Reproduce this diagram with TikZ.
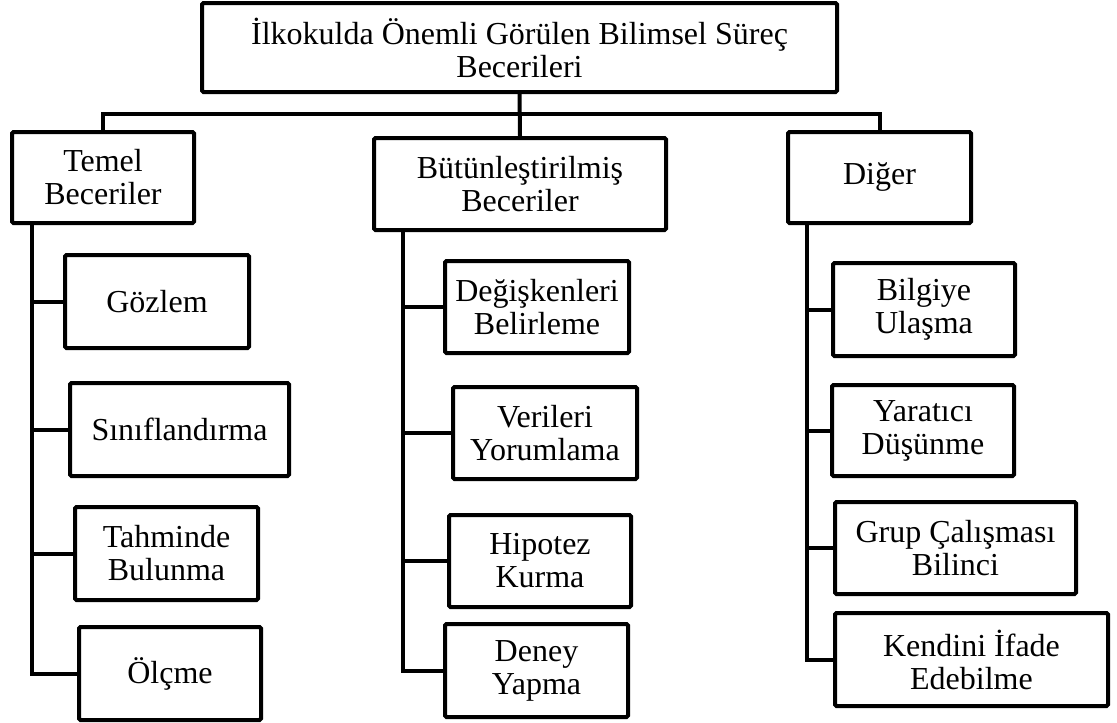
\documentclass[tikz,border=0pt]{standalone}
\usepackage{fontspec}
\setmainfont{Liberation Serif}
\begin{document}
\begin{tikzpicture}[x=1pt,y=-1pt,
  box/.style={draw=black,line width=4pt,rounded corners=1.5pt,fill=white,
    align=center,inner sep=0pt,font=\fontsize{32}{33}\selectfont,
    minimum width=#1},
  box/.default=182pt,
  link/.style={draw=black,line width=4pt,line join=miter}]
\useasboundingbox (0,0) rectangle (1117,723);

% title
\node[box=635pt,minimum height=89pt] (top) at (519.5,47.5)
  {İlkokulda Önemli Görülen Bilimsel Süreç\\Becerileri};

% three main groups
\node[box=182pt,minimum height=91pt] (temel) at (103,177.5) {Temel\\Beceriler};
\node[box=292pt,minimum height=92pt] (butun) at (520,184) {Bütünleştirilmiş\\Beceriler};
\node[box=183pt,minimum height=91pt] (diger) at (879.5,177.5) {Diğer};

% basic skills
\node[box=184pt,minimum height=93pt] (gozlem) at (157,301.5) {Gözlem};
\node[box=219pt,minimum height=93pt] (sinif) at (179.5,429.5) {Sınıflandırma};
\node[box=183pt,minimum height=93pt] (tahmin) at (166.5,553.5) {Tahminde\\Bulunma};
\node[box=182pt,minimum height=93pt] (olcme) at (170,673.5) {Ölçme};

% integrated skills
\node[box=184pt,minimum height=92pt] (degisken) at (537,307) {Değişkenleri\\Belirleme};
\node[box=184pt,minimum height=92pt] (veri) at (545,433) {Verileri\\Yorumlama};
\node[box=182pt,minimum height=92pt] (hipotez) at (540,561) {Hipotez\\Kurma};
\node[box=183pt,minimum height=93pt] (deney) at (536.5,670.5) {Deney\\Yapma};

% other skills
\node[box=182pt,minimum height=93pt] (bilgi) at (924,309.5) {Bilgiye\\Ulaşma};
\node[box=182pt,minimum height=91pt] (yaratici) at (923,430.5) {Yaratıcı\\Düşünme};
\node[box=241pt,minimum height=92pt] (grup) at (955.5,548) {Grup Çalışması\\Bilinci};
\node[box=273pt,minimum height=93pt] (kendini) at (971.5,659.5) {Kendini İfade\\Edebilme};

% bus and spine positions
\coordinate (bus) at (0,114);
\coordinate (spineA) at (32,0);
\coordinate (spineB) at (403,0);
\coordinate (spineC) at (807,0);

% title to groups
\draw[link] (top.south) -- (butun.north);
\draw[link] (temel.north) |- (bus -| diger.north) -- (diger.north);

% group spines
\draw[link] (spineA |- temel.south) |- (olcme.west);
\draw[link] (spineB |- butun.south) |- (deney.west);
\draw[link] (spineC |- diger.south) |- (kendini.west);

% branches
\foreach \n in {gozlem,sinif,tahmin}
  \draw[link] (spineA |- \n.west) -- (\n.west);
\foreach \n in {degisken,veri,hipotez}
  \draw[link] (spineB |- \n.west) -- (\n.west);
\foreach \n in {bilgi,yaratici,grup}
  \draw[link] (spineC |- \n.west) -- (\n.west);
\end{tikzpicture}
\end{document}
